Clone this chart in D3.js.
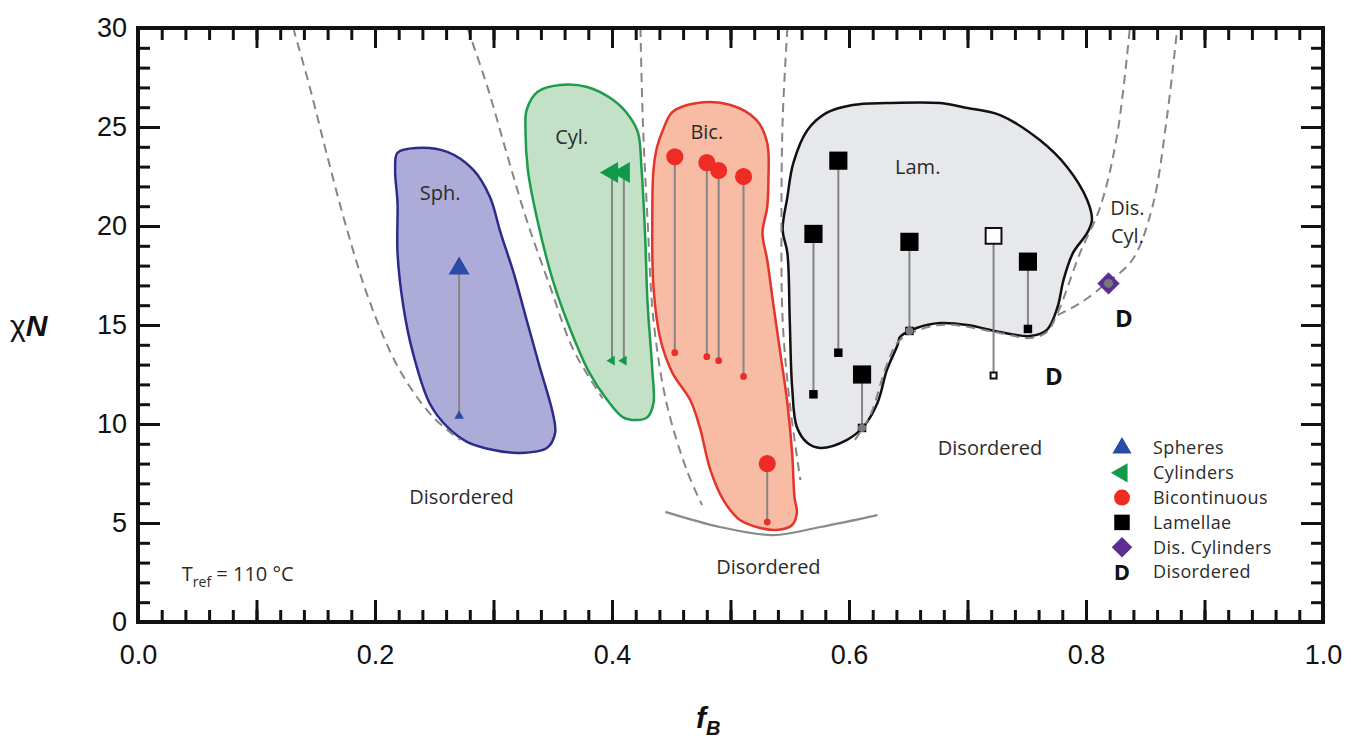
<!DOCTYPE html>
<html>
<head>
<meta charset="utf-8">
<script src="https://cdn.jsdelivr.net/npm/d3@7"></script>
<style>
  body { margin: 0; background: #fff; }
  text { font-family: "Open Sans", "Noto Sans", sans-serif; fill: #2b2b2b; }
  .tick text { font-family: "Liberation Sans", Arial, sans-serif; font-size: 27px; fill: #111; }
</style>
</head>
<body>
<svg id="chart" width="1351" height="748"></svg>
<script>
// phase regions, [fB, chiN] outline points
const sphereOutline = [[0.219, 23.7], [0.235, 23.94], [0.261, 23.74], [0.283, 22.83], [0.297, 21.46],
  [0.306, 19.65], [0.317, 17.63], [0.328, 15.25], [0.339, 12.88], [0.350, 10.56], [0.352, 9.55],
  [0.345, 8.79], [0.322, 8.54], [0.300, 8.69], [0.278, 9.09], [0.261, 9.85], [0.246, 11.06],
  [0.232, 13.59], [0.224, 15.91], [0.219, 18.64], [0.219, 21.16], [0.217, 22.83]];
const cylinderOutline = [[0.328, 25.86], [0.337, 26.77], [0.356, 27.12], [0.379, 27.02], [0.401, 26.36],
  [0.415, 25.51], [0.422, 24.7], [0.425, 22.83], [0.428, 19.44], [0.430, 16.11], [0.434, 12.73],
  [0.435, 11.06], [0.430, 10.35], [0.421, 10.2], [0.409, 10.35], [0.396, 11.21], [0.381, 12.58],
  [0.365, 14.75], [0.350, 17.27], [0.337, 20.3], [0.329, 22.83], [0.327, 24.85]];
const bicontinuousOutline = [[0.443, 24.85], [0.451, 25.76], [0.472, 26.21], [0.500, 26.11], [0.522, 25.35],
  [0.531, 24.19], [0.532, 22.32], [0.531, 20.96], [0.527, 19.65], [0.531, 18.28], [0.536, 16.11],
  [0.542, 13.59], [0.548, 11.06], [0.552, 8.54], [0.554, 6.31], [0.556, 5.51], [0.552, 4.9],
  [0.539, 4.65], [0.525, 4.75], [0.508, 5.15], [0.494, 6.16], [0.483, 7.68], [0.474, 9.85],
  [0.466, 11.21], [0.451, 12.58], [0.441, 14.24], [0.435, 16.92], [0.434, 20.3], [0.435, 22.83],
  [0.438, 23.99]];
const lamellaeOutline = [[0.565, 24.85], [0.581, 25.71], [0.603, 26.11], [0.632, 26.21], [0.677, 26.21],
  [0.700, 25.96], [0.727, 25.61], [0.761, 24.34], [0.784, 22.98], [0.801, 21.31], [0.805, 20.3],
  [0.801, 19.65], [0.789, 18.64], [0.781, 17.27], [0.776, 15.91], [0.767, 14.75], [0.753, 14.44],
  [0.727, 14.65], [0.700, 15.0], [0.677, 15.1], [0.657, 14.85], [0.643, 14.39], [0.641, 13.99],
  [0.632, 12.73], [0.624, 11.06], [0.612, 9.85], [0.598, 9.19], [0.576, 8.79], [0.565, 9.04],
  [0.556, 9.85], [0.552, 11.87], [0.550, 15.25], [0.548, 18.64], [0.544, 19.8], [0.548, 21.46],
  [0.553, 23.18]];

// dashed phase boundaries
const boundaries = [
  [[0.131, 30], [0.145, 27.0], [0.159, 23.7], [0.176, 19.9], [0.196, 16.1], [0.221, 12.7], [0.249, 10.35], [0.272, 9.2]],
  [[0.278, 30], [0.295, 27.0], [0.311, 23.7], [0.328, 20.3], [0.348, 16.9], [0.367, 13.8], [0.392, 11.3]],
  [[0.424, 30], [0.426, 25.35], [0.430, 20.3], [0.435, 15.25], [0.446, 11.06], [0.463, 7.68], [0.476, 5.9]],
  [[0.548, 30], [0.544, 25.35], [0.543, 20.3], [0.544, 15.25], [0.550, 11.06], [0.559, 7.17]],
  [[0.605, 9.2], [0.618, 10.45], [0.632, 13.0], [0.643, 14.24], [0.677, 15.0], [0.727, 14.6], [0.753, 14.34],
    [0.767, 14.65], [0.776, 15.6], [0.795, 18.64], [0.812, 20.96], [0.826, 24.5], [0.837, 30]],
  [[0.776, 15.5], [0.795, 16.1], [0.817, 17.1], [0.839, 18.28], [0.856, 20.96], [0.868, 25.35], [0.877, 30]],
];
// solid curve under the bicontinuous window
const bottomCurve = [[0.445, 5.56], [0.491, 4.8], [0.536, 4.39], [0.576, 4.8], [0.624, 5.4]];

// measurements: fB, chiN of ordered state (top) and of transition (bottom)
const spheres = [{ f: 0.271, top: 17.85, bottom: 10.4 }];
const cylinders = [{ f: 0.400, top: 22.7, bottom: 13.2 }, { f: 0.410, top: 22.7, bottom: 13.2 }];
const bicontinuous = [{ f: 0.453, top: 23.5, bottom: 13.6 }, { f: 0.480, top: 23.2, bottom: 13.4 },
  { f: 0.490, top: 22.8, bottom: 13.2 }, { f: 0.511, top: 22.5, bottom: 12.4 },
  { f: 0.531, top: 8.0, bottom: 5.05 }];
const lamellae = [{ f: 0.570, top: 19.6, bottom: 11.5 }, { f: 0.591, top: 23.3, bottom: 13.6 },
  { f: 0.611, top: 12.5, bottom: 9.8 }, { f: 0.651, top: 19.2, bottom: 14.7 },
  { f: 0.751, top: 18.2, bottom: 14.8 }];
const lamellaeOpen = [{ f: 0.722, top: 19.5, bottom: 12.45 }];
const boundaryHits = [[0.611, 9.8], [0.651, 14.7]];
const disCylinders = [[0.819, 17.1]];
const disorderedMarks = [[0.773, 12.4], [0.832, 15.35]];

const phaseLabels = [
  { text: 'Sph.', f: 0.255, chi: 21.67 }, { text: 'Cyl.', f: 0.366, chi: 24.5 },
  { text: 'Bic.', f: 0.480, chi: 24.75 }, { text: 'Lam.', f: 0.658, chi: 22.98 },
  { text: 'Dis.', f: 0.835, chi: 20.9 }, { text: 'Cyl.', f: 0.835, chi: 19.5 },
  { text: 'Disordered', f: 0.273, chi: 6.3 }, { text: 'Disordered', f: 0.532, chi: 2.8 },
  { text: 'Disordered', f: 0.719, chi: 8.8 },
];
const legendNames = ['Spheres', 'Cylinders', 'Bicontinuous', 'Lamellae', 'Dis. Cylinders', 'Disordered'];

const svg = d3.select('#chart');
const x = d3.scaleLinear().domain([0, 1]).range([138, 1323]);
const y = d3.scaleLinear().domain([0, 30]).range([622, 28]);

const closed = d3.line().x((d) => x(d[0])).y((d) => y(d[1])).curve(d3.curveCatmullRomClosed.alpha(0.5));
const smooth = d3.line().x((d) => x(d[0])).y((d) => y(d[1])).curve(d3.curveCatmullRom.alpha(0.5));

const plot = svg.append('g');
plot.append('defs').append('clipPath').attr('id', 'clip')
  .append('rect').attr('x', x(0)).attr('y', y(30)).attr('width', x(1) - x(0)).attr('height', y(0) - y(30));

// regions
[[sphereOutline, '#adacd9', '#2c2b8c'], [cylinderOutline, '#c2e1c6', '#1e9b4b'],
  [bicontinuousOutline, '#f8bba4', '#e2352b'], [lamellaeOutline, '#e6e8eb', '#111']]
  .forEach(([pts, fill, stroke]) => {
    plot.append('path').attr('d', closed(pts)).attr('fill', fill)
      .attr('stroke', stroke).attr('stroke-width', 2.5);
  });

// boundaries
plot.append('g').attr('clip-path', 'url(#clip)').selectAll('path').data(boundaries).join('path')
  .attr('d', smooth).attr('fill', 'none').attr('stroke', '#8a8484')
  .attr('stroke-width', 2).attr('stroke-dasharray', '9,6');
plot.append('path').attr('d', smooth(bottomCurve)).attr('fill', 'none')
  .attr('stroke', '#8a8a8a').attr('stroke-width', 2.2);

// connecting lines
const runs = [...spheres, ...cylinders, ...bicontinuous, ...lamellae, ...lamellaeOpen];
plot.append('g').selectAll('line').data(runs).join('line')
  .attr('x1', (d) => x(d.f)).attr('x2', (d) => x(d.f))
  .attr('y1', (d) => y(d.top)).attr('y2', (d) => y(d.bottom))
  .attr('stroke', '#858585').attr('stroke-width', 2);

const sym = (type, size) => d3.symbol().type(type).size(size)();
function marks(data, key, type, size, fill, rotate, stroke) {
  plot.append('g').selectAll('path').data(data).join('path')
    .attr('d', sym(type, size))
    .attr('transform', (d) => `translate(${x(d.f)},${y(d[key])}) rotate(${rotate})`)
    .attr('fill', fill)
    .attr('stroke', stroke || 'none').attr('stroke-width', 2);
}
marks(spheres, 'top', d3.symbolTriangle, 190, '#2b4aa6', 0);
marks(spheres, 'bottom', d3.symbolTriangle, 40, '#2b4aa6', 0);
marks(cylinders, 'top', d3.symbolTriangle, 190, '#10994a', -90);
marks(cylinders, 'bottom', d3.symbolTriangle, 40, '#10994a', -90);
marks(bicontinuous, 'top', d3.symbolCircle, 230, '#ee2b24', 0);
marks(bicontinuous, 'bottom', d3.symbolCircle, 36, '#ee2b24', 0);
marks(lamellae, 'top', d3.symbolSquare, 330, '#000', 0);
marks(lamellae, 'bottom', d3.symbolSquare, 72, '#000', 0);
marks(lamellaeOpen, 'top', d3.symbolSquare, 250, '#fff', 0, '#111');
marks(lamellaeOpen, 'bottom', d3.symbolSquare, 36, '#fff', 0, '#111');

plot.append('g').selectAll('circle').data(boundaryHits).join('circle')
  .attr('cx', (d) => x(d[0])).attr('cy', (d) => y(d[1])).attr('r', 4).attr('fill', '#7a7a7a');

const dia = plot.append('g').selectAll('g').data(disCylinders).join('g')
  .attr('transform', (d) => `translate(${x(d[0])},${y(d[1])})`);
dia.append('path').attr('d', sym(d3.symbolSquare, 250)).attr('transform', 'rotate(45)').attr('fill', '#5c2e91');
dia.append('circle').attr('r', 4.5).attr('fill', '#777');

plot.append('g').selectAll('text').data(disorderedMarks).join('text')
  .attr('x', (d) => x(d[0])).attr('y', (d) => y(d[1])).attr('dy', '0.36em')
  .attr('text-anchor', 'middle').style('font-size', '24px').style('font-weight', 'bold')
  .style('fill', '#111').text('D');

plot.append('g').selectAll('text').data(phaseLabels).join('text')
  .attr('x', (d) => x(d.f)).attr('y', (d) => y(d.chi)).attr('dy', '0.36em')
  .attr('text-anchor', 'middle').style('font-size', '20px').text((d) => d.text);

// T ref note
const tref = svg.append('text').attr('x', x(0.037)).attr('y', y(2.45)).attr('dy', '0.36em')
  .style('font-size', '20px');
tref.append('tspan').text('T');
tref.append('tspan').attr('dy', '6').style('font-size', '14px').text('ref');
tref.append('tspan').attr('dy', '-6').text(' = 110 °C');

// legend
const legend = svg.append('g').attr('transform', 'translate(1122,448)');
const rows = legend.selectAll('g').data(legendNames).join('g')
  .attr('transform', (d, i) => `translate(0,${i * 24.8})`);
rows.append('text').attr('x', 31).attr('dy', '0.36em').style('font-size', '18px')
  .style('letter-spacing', '0.4px').text((d) => d);
const legendSym = [[d3.symbolTriangle, 160, '#2b4aa6', 0], [d3.symbolTriangle, 160, '#10994a', -90],
  [d3.symbolCircle, 200, '#ee2b24', 0], [d3.symbolSquare, 240, '#000', 0], [d3.symbolSquare, 210, '#5c2e91', 45]];
rows.filter((d, i) => i < 5).append('path')
  .attr('d', (d, i) => sym(legendSym[i][0], legendSym[i][1]))
  .attr('transform', (d, i) => `rotate(${legendSym[i][3]})`)
  .attr('fill', (d, i) => legendSym[i][2]);
rows.filter((d, i) => i === 5).append('text').attr('text-anchor', 'middle').attr('dy', '0.36em')
  .style('font-size', '22px').style('font-weight', 'bold').style('fill', '#111').text('D');

// axes, ticks pointing inward
const xMinor = d3.range(0, 1.001, 0.02);
const xMajor = d3.range(0, 1.001, 0.1);
const yMinor = d3.range(0, 31, 1);
const yMajor = d3.range(0, 31, 5);
const axisStyle = (g) => {
  g.select('.domain').remove();
  g.selectAll('.tick line').attr('stroke', '#111').attr('stroke-width', 3);
};
const xLabel = (d) => (Math.round(d * 10) % 2 === 0 ? d3.format('.1f')(d) : '');

svg.append('g').attr('transform', `translate(0,${y(0)})`)
  .call(d3.axisBottom(x).tickValues(xMinor).tickSize(-12).tickFormat(''))
  .call(axisStyle);
svg.append('g').attr('transform', `translate(0,${y(0)})`)
  .call(d3.axisBottom(x).tickValues(xMajor).tickSize(-22).tickPadding(23).tickFormat(xLabel))
  .call(axisStyle);
svg.append('g').attr('transform', `translate(0,${y(30)})`)
  .call(d3.axisTop(x).tickValues(xMinor).tickSize(-12).tickFormat(''))
  .call(axisStyle);
svg.append('g').attr('transform', `translate(0,${y(30)})`)
  .call(d3.axisTop(x).tickValues(xMajor).tickSize(-20).tickFormat(''))
  .call(axisStyle);
svg.append('g').attr('transform', `translate(${x(0)},0)`)
  .call(d3.axisLeft(y).tickValues(yMinor).tickSize(-12).tickFormat(''))
  .call(axisStyle);
svg.append('g').attr('transform', `translate(${x(0)},0)`)
  .call(d3.axisLeft(y).tickValues(yMajor).tickSize(-22).tickPadding(11).tickFormat(d3.format('d')))
  .call(axisStyle);
svg.append('g').attr('transform', `translate(${x(1)},0)`)
  .call(d3.axisRight(y).tickValues(yMinor).tickSize(-12).tickFormat(''))
  .call(axisStyle);
svg.append('g').attr('transform', `translate(${x(1)},0)`)
  .call(d3.axisRight(y).tickValues(yMajor).tickSize(-22).tickFormat(''))
  .call(axisStyle);

svg.append('rect').attr('x', x(0)).attr('y', y(30)).attr('width', x(1) - x(0))
  .attr('height', y(0) - y(30)).attr('fill', 'none').attr('stroke', '#111').attr('stroke-width', 4);

// axis titles
const yt = svg.append('text').attr('x', 10).attr('y', y(15)).attr('dy', '0.36em')
  .style('font-family', '"Liberation Sans", Arial, sans-serif').style('font-size', '30px').style('fill', '#111');
yt.append('tspan').text('χ');
yt.append('tspan').style('font-weight', 'bold').style('font-style', 'italic').text('N');
const xt = svg.append('text').attr('x', 696).attr('y', 728)
  .style('font-family', '"Liberation Sans", Arial, sans-serif').style('font-size', '30px')
  .style('font-weight', 'bold').style('font-style', 'italic').style('fill', '#111');
xt.append('tspan').text('f');
xt.append('tspan').attr('dy', 7).style('font-size', '20px').text('B');
</script>
</body>
</html>
